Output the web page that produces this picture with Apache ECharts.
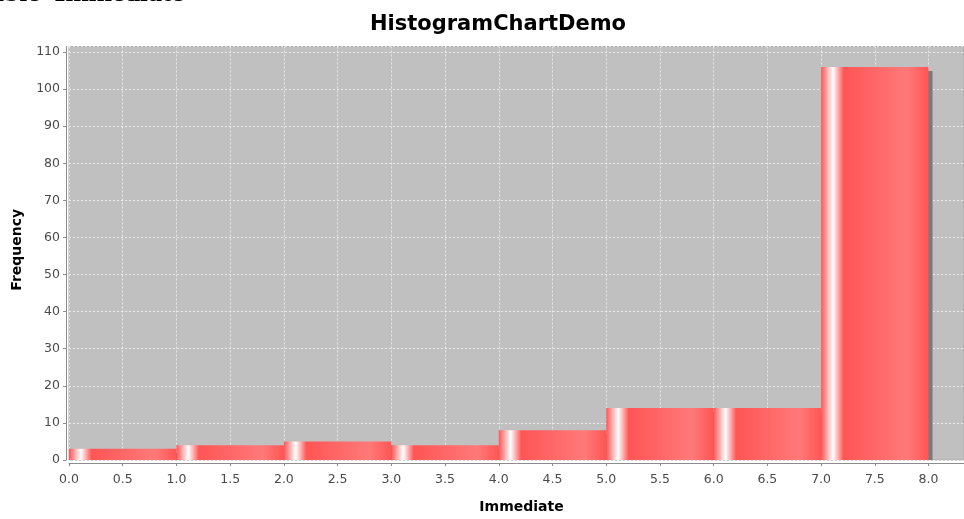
<!DOCTYPE html>
<html>
<head>
<meta charset="utf-8">
<script src="https://cdn.jsdelivr.net/npm/echarts@6/dist/echarts.min.js"></script>
<style>
  html, body { margin: 0; padding: 0; background: #ffffff; }
  #chart { width: 964px; height: 519px; }
</style>
</head>
<body>
<div id="chart"></div>
<script>
// Histogram bins of the 'Immediate' variable
const binStarts = [0, 1, 2, 3, 4, 5, 6, 7];
const binEnds = [1, 2, 3, 4, 5, 6, 7, 8];
const frequencies = [3, 4, 5, 4, 8, 14, 14, 106];

const chartTitle = 'HistogramChartDemo';
const xAxisTitle = 'Immediate';
const yAxisTitle = 'Frequency';
const headerText = "able 'Immediate'";

const barData = binStarts.map((s, i) => [s, binEnds[i], frequencies[i]]);

const chart = echarts.init(document.getElementById('chart'));

// Bar face: base red with a white highlight stripe near the left edge
const barFill = new echarts.graphic.LinearGradient(0, 0, 1, 0, [
  { offset: 0.0, color: '#ff5555' },
  { offset: 0.11, color: '#ffffff' },
  { offset: 0.21, color: '#ff5555' },
  { offset: 0.8, color: '#ff7979' },
  { offset: 1.0, color: '#ff5555' }
]);

const labelFont = 'DejaVu Sans';
const gridLine = { show: true, lineStyle: { color: 'rgba(255,255,255,0.65)', type: [2, 2], width: 1 } };

chart.setOption({
  animation: false,
  backgroundColor: '#ffffff',
  title: {
    text: chartTitle,
    left: 493,
    top: 9,
    textAlign: 'center',
    textStyle: { fontFamily: labelFont, fontWeight: 'bold', fontSize: 21, color: '#000000' }
  },
  graphic: [{
    type: 'text',
    x: -10,
    y: -6,
    style: {
      text: headerText,
      font: 'bold 28px "Liberation Serif"',
      fill: '#000000',
      verticalAlign: 'middle'
    }
  }],
  grid: {
    left: 69,
    right: 0,
    top: 46.5,
    bottom: 49.5,
    show: true,
    backgroundColor: '#c0c0c0',
    borderColor: '#a8a8a8',
    borderWidth: 1
  },
  xAxis: {
    type: 'value',
    min: 0,
    max: 8.33,
    interval: 0.5,
    offset: 3,
    name: xAxisTitle,
    nameLocation: 'middle',
    nameGap: 37,
    nameTextStyle: { fontFamily: labelFont, fontWeight: 'bold', fontSize: 14, color: '#000000', padding: [0, 0, 0, 10] },
    axisLine: { show: true, onZero: false, lineStyle: { color: '#8c8c8c', width: 1 } },
    axisTick: { show: true, length: 3, lineStyle: { color: '#8c8c8c' } },
    axisLabel: {
      color: '#4a4a4a',
      fontFamily: labelFont,
      fontSize: 12.5,
      margin: 10,
      showMaxLabel: false,
      formatter: v => (Math.abs(v * 2 - Math.round(v * 2)) < 1e-6 ? v.toFixed(1) : '')
    },
    splitLine: gridLine
  },
  yAxis: {
    type: 'value',
    min: 0,
    max: 111.5,
    interval: 10,
    offset: 3,
    name: yAxisTitle,
    nameLocation: 'middle',
    nameGap: 42,
    nameTextStyle: { fontFamily: labelFont, fontWeight: 'bold', fontSize: 14, color: '#000000', padding: [0, 0, 0, 7] },
    axisLine: { show: true, onZero: false, lineStyle: { color: '#8c8c8c', width: 1 } },
    axisTick: { show: true, length: 3, lineStyle: { color: '#8c8c8c' } },
    axisLabel: {
      color: '#4a4a4a',
      fontFamily: labelFont,
      fontSize: 12.5,
      margin: 6,
      showMaxLabel: false,
      formatter: v => (v % 10 === 0 ? String(v) : '')
    },
    splitLine: gridLine
  },
  series: [{
    type: 'custom',
    clip: true,
    data: barData,
    encode: { x: [0, 1], y: 2 },
    renderItem: function (params, api) {
      const x0 = api.value(0);
      const x1 = api.value(1);
      const v = api.value(2);
      const topLeft = api.coord([x0, v]);
      const bottomRight = api.coord([x1, 0]);
      const w = bottomRight[0] - topLeft[0];
      const h = bottomRight[1] - topLeft[1];
      return {
        type: 'group',
        children: [
          {
            type: 'rect',
            shape: { x: topLeft[0] + 4, y: topLeft[1] + 4, width: w, height: Math.max(h - 4, 0) },
            style: { fill: '#7a7a7a' }
          },
          {
            type: 'rect',
            shape: { x: topLeft[0], y: topLeft[1], width: w, height: h },
            style: { fill: barFill }
          }
        ]
      };
    }
  }]
});
</script>
</body>
</html>
